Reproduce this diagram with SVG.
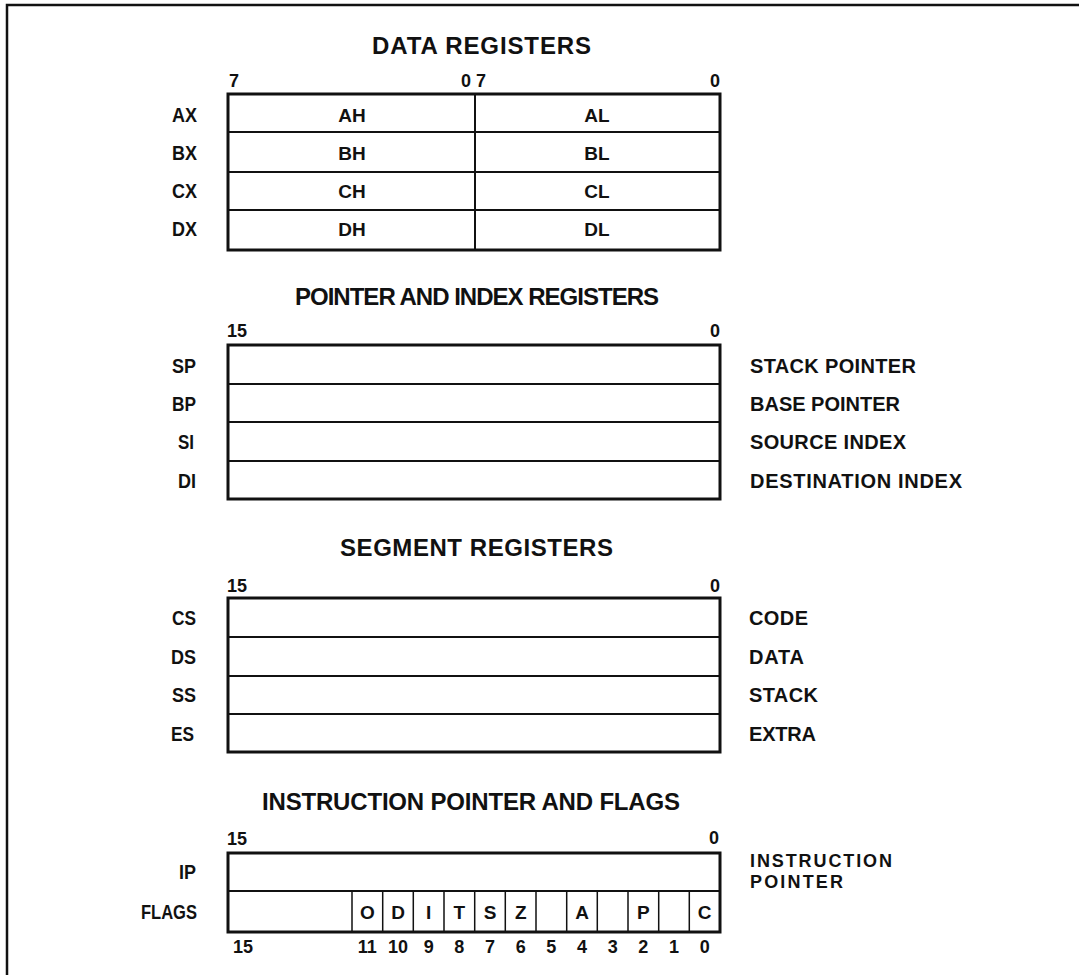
<svg xmlns="http://www.w3.org/2000/svg" width="1079" height="975" viewBox="0 0 1079 975">
<style>
text{font-family:"Liberation Sans",Arial,Helvetica,sans-serif;font-weight:bold;fill:#111}
.t{font-size:24px}
.l{font-size:20px;text-anchor:end}
.r{font-size:20px;text-anchor:start}
.r2{font-size:18px;text-anchor:start}
.c{font-size:19px;text-anchor:middle}
.n{font-size:18px}
.m{text-anchor:middle}
.e{text-anchor:end}
.ob{fill:none;stroke:#111;stroke-width:3}
.in{fill:none;stroke:#111;stroke-width:2}
.th{fill:none;stroke:#111;stroke-width:1.5}
</style>
<rect width="1079" height="975" fill="#fff"/>
<path id="frame" d="M7,975 V5 H1079" fill="none" stroke="#111" stroke-width="2.5"/>

<g id="data-registers">
<text class="t" x="372" y="54" textLength="219">DATA REGISTERS</text>
<text class="n" x="229" y="87">7</text>
<text class="n e" x="471" y="87">0</text>
<text class="n" x="476" y="87">7</text>
<text class="n e" x="720" y="87">0</text>
<path class="in" d="M228,132 H720 M228,172 H720 M228,210 H720 M475,94 V250"/>
<rect class="ob" x="228" y="94" width="492" height="156"/>
<text class="l" x="197" y="122" textLength="25" lengthAdjust="spacingAndGlyphs">AX</text>
<text class="l" x="197" y="160" textLength="25" lengthAdjust="spacingAndGlyphs">BX</text>
<text class="l" x="197" y="198" textLength="25" lengthAdjust="spacingAndGlyphs">CX</text>
<text class="l" x="197" y="236" textLength="25" lengthAdjust="spacingAndGlyphs">DX</text>
<text class="c" x="352" y="122">AH</text>
<text class="c" x="352" y="160">BH</text>
<text class="c" x="352" y="198">CH</text>
<text class="c" x="352" y="236">DH</text>
<text class="c" x="597" y="122">AL</text>
<text class="c" x="597" y="160">BL</text>
<text class="c" x="597" y="198">CL</text>
<text class="c" x="597" y="236">DL</text>
</g>

<g id="pointer-index-registers">
<text class="t" x="295" y="305" textLength="364">POINTER AND INDEX REGISTERS</text>
<text class="n" x="227" y="337">15</text>
<text class="n e" x="720" y="337">0</text>
<path class="in" d="M228,384 H720 M228,422 H720 M228,461 H720"/>
<rect class="ob" x="228" y="345" width="492" height="154"/>
<text class="l" x="196" y="373" textLength="24" lengthAdjust="spacingAndGlyphs">SP</text>
<text class="l" x="196" y="411" textLength="24" lengthAdjust="spacingAndGlyphs">BP</text>
<text class="l" x="194" y="449" textLength="16" lengthAdjust="spacingAndGlyphs">SI</text>
<text class="l" x="196" y="488" textLength="18" lengthAdjust="spacingAndGlyphs">DI</text>
<text class="r" x="750" y="373" textLength="166">STACK POINTER</text>
<text class="r" x="750" y="411" textLength="150">BASE POINTER</text>
<text class="r" x="750" y="449" textLength="156">SOURCE INDEX</text>
<text class="r" x="750" y="488" textLength="212">DESTINATION INDEX</text>
</g>

<g id="segment-registers">
<text class="t" x="340" y="556" textLength="273">SEGMENT REGISTERS</text>
<text class="n" x="227" y="592">15</text>
<text class="n e" x="720" y="592">0</text>
<path class="in" d="M228,637 H720 M228,676 H720 M228,714 H720"/>
<rect class="ob" x="228" y="598" width="492" height="154"/>
<text class="l" x="196" y="625" textLength="24" lengthAdjust="spacingAndGlyphs">CS</text>
<text class="l" x="196" y="664" textLength="25" lengthAdjust="spacingAndGlyphs">DS</text>
<text class="l" x="196" y="702" textLength="24" lengthAdjust="spacingAndGlyphs">SS</text>
<text class="l" x="194" y="741" textLength="23" lengthAdjust="spacingAndGlyphs">ES</text>
<text class="r" x="749" y="625" textLength="59">CODE</text>
<text class="r" x="749" y="664" textLength="55">DATA</text>
<text class="r" x="749" y="702" textLength="69">STACK</text>
<text class="r" x="749" y="741" textLength="67">EXTRA</text>
</g>

<g id="ip-flags">
<text class="t" x="262" y="810" textLength="418">INSTRUCTION POINTER AND FLAGS</text>
<text class="n" x="227" y="845">15</text>
<text class="n e" x="719" y="844">0</text>
<path class="in" d="M228,891 H720"/>
<path class="th" d="M352,891 V932 M382.7,891 V932 M413.3,891 V932 M444,891 V932 M474.7,891 V932 M505.3,891 V932 M536,891 V932 M566.7,891 V932 M597.3,891 V932 M628,891 V932 M658.7,891 V932 M689.3,891 V932"/>
<rect class="ob" x="228" y="853" width="492" height="79"/>
<text class="l" x="196" y="879" textLength="17" lengthAdjust="spacingAndGlyphs">IP</text>
<text class="l" x="197" y="919" textLength="56" lengthAdjust="spacingAndGlyphs">FLAGS</text>
<text class="r2" x="750" y="867" textLength="142">INSTRUCTION</text>
<text class="r2" x="750" y="888" textLength="93">POINTER</text>
<text class="c" x="367.3" y="919">O</text>
<text class="c" x="398" y="919">D</text>
<text class="c" x="428.7" y="919">I</text>
<text class="c" x="459.3" y="919">T</text>
<text class="c" x="490" y="919">S</text>
<text class="c" x="520.7" y="919">Z</text>
<text class="c" x="582" y="919">A</text>
<text class="c" x="643.3" y="919">P</text>
<text class="c" x="704.7" y="919">C</text>
<text class="n" x="233" y="953">15</text>
<text class="n m" x="367.3" y="953">11</text>
<text class="n m" x="398" y="953">10</text>
<text class="n m" x="428.7" y="953">9</text>
<text class="n m" x="459.3" y="953">8</text>
<text class="n m" x="490" y="953">7</text>
<text class="n m" x="520.7" y="953">6</text>
<text class="n m" x="551.3" y="953">5</text>
<text class="n m" x="582" y="953">4</text>
<text class="n m" x="612.7" y="953">3</text>
<text class="n m" x="643.3" y="953">2</text>
<text class="n m" x="674" y="953">1</text>
<text class="n m" x="704.7" y="953">0</text>
</g>
</svg>
